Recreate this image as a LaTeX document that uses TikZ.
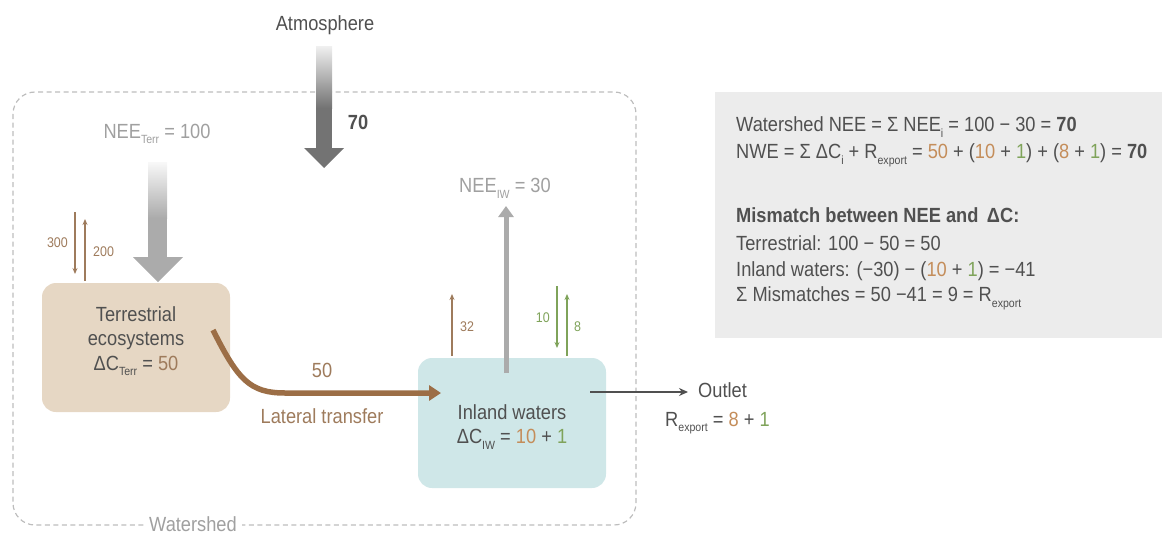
\documentclass[tikz,border=0pt]{standalone}
\usepackage{fontspec}
\setmainfont{Liberation Sans}[FakeStretch=0.89]
\usetikzlibrary{arrows.meta,calc}
\definecolor{txt}{HTML}{505050}
\definecolor{lgtxt}{HTML}{A0A0A0}
\definecolor{brownc}{HTML}{9C6E46}
\definecolor{brownl}{HTML}{9E7B5C}
\definecolor{tanc}{HTML}{C48D5A}
\definecolor{greenc}{HTML}{7FA35A}
\definecolor{terrfill}{HTML}{E6D7C4}
\definecolor{iwfill}{HTML}{CFE7E8}
\definecolor{rfill}{HTML}{ECECEC}
\definecolor{wsline}{HTML}{BDBDBD}
\definecolor{atmgray}{HTML}{737373}
\definecolor{neegray}{HTML}{ABABAB}
\newcommand\sbs[1]{\raisebox{-0.28em}{\scalebox{0.58}{#1}}}
\tikzset{
  every node/.style={inner sep=1pt, text=txt},
  big/.style={font=\fontsize{20.5}{24.5}\selectfont},
  small/.style={font=\fontsize{14}{16}\selectfont},
  boxstyle/.style={rounded corners=14pt, draw=none},
  wsd/.style={draw=wsline, line width=1.2pt, dash pattern=on 5pt off 3.5pt, rounded corners=22pt},
  thinarrow/.style={line width=1.4pt, -{Stealth[length=6pt,width=5pt]}},
}
\begin{document}
\begin{tikzpicture}[x=1pt,y=-1pt]
\useasboundingbox (0,0) rectangle (1162,535);
% watershed
\draw[wsd] (13,92) rectangle (636,525);
\node[big, text=lgtxt, fill=white, inner xsep=5pt] (ws) at (193,524) {Watershed};
% right box
\fill[rfill] (715,92) rectangle (1162,338);
\node[big, anchor=west] (r1) at (735,127) {Watershed NEE = Σ NEE\sbs{i} = 100 − 30 = \textbf{70}};
\node[big, anchor=west] (r2) at (735,155) {NWE = Σ ΔC\sbs{i} + R\sbs{export} = \textcolor{tanc}{50} + (\textcolor{tanc}{10} + \textcolor{greenc}{1}) + (\textcolor{tanc}{8} + \textcolor{greenc}{1}) = \textbf{70}};
\node[big, anchor=west] (r3) at (735,215) {\textbf{Mismatch between NEE and\, ΔC:}};
\node[big, anchor=west] (r4) at (735,243) {Terrestrial: 100 − 50 = 50};
\node[big, anchor=west] (r5) at (735,271) {Inland waters: (−30) − (\textcolor{tanc}{10} + \textcolor{greenc}{1}) = −41};
\node[big, anchor=west] (r6) at (735,298) {Σ Mismatches = 50 −41 = 9 = R\sbs{export}};
% atmosphere
\node[big] (atm) at (325,25) {Atmosphere};
\shade[top color=atmgray!12, bottom color=atmgray] (316,47) rectangle (332,108);
\fill[atmgray] (316,107.5) rectangle (332,149);
\fill[atmgray] (304,148) -- (344,148) -- (324,168) -- cycle;
\node[big] (n70) at (358,122) {\textbf{70}};
% NEE terr
\node[big, text=lgtxt] (neeterr) at (157,134) {NEE\sbs{Terr} = 100};
\shade[top color=neegray!8, bottom color=neegray] (148,162) rectangle (167,218);
\fill[neegray] (148,217.5) rectangle (167,258);
\fill[neegray] (133,257) -- (183,257) -- (158,282) -- cycle;
% terrestrial box
\node[boxstyle, fill=terrfill, minimum width=188pt, minimum height=129pt] (terr) at (136,347.5) {};
\node[big, align=center] (terrtxt) at (136,341) {Terrestrial\\ecosystems\\ΔC\sbs{Terr} = \textcolor{brownl}{50}};
% 300/200
\coordinate (a300s) at (75,212); \coordinate (a300e) at (75,274);
\coordinate (a200s) at (85,281); \coordinate (a200e) at (85,219);
\draw[thinarrow, brownl] (a300s) -- (a300e);
\draw[thinarrow, brownl] (a200s) -- (a200e);
\node[small, text=brownl, anchor=east] (l300) at (69,243) {300};
\node[small, text=brownl, anchor=west] (l200) at (92,252) {200};
% inland waters box
\node[boxstyle, fill=iwfill, minimum width=188pt, minimum height=130pt] (iw) at (512,423) {};
\node[big, align=center] (iwtxt) at (512,427) {Inland waters\\ΔC\sbs{IW} = \textcolor{tanc}{10} + \textcolor{greenc}{1}};
% NEE IW
\node[big, text=lgtxt] (neeiw) at (505,188) {NEE\sbs{IW} = 30};
\coordinate (iwup) at (506,373);
\coordinate (iwtop) at (506,206);
\draw[neegray, line width=5pt, -{Triangle[length=11pt,width=15pt]}] (iwup) -- (iwtop);
% 32 / 10 / 8
\draw[thinarrow, brownl] (452,356) -- (452,294);
\node[small, text=brownl, anchor=west] (l32) at (459,327) {32};
\draw[thinarrow, greenc] (557,286) -- (557,348);
\node[small, text=greenc, anchor=east] (l10) at (551,318) {10};
\draw[thinarrow, greenc] (567,356) -- (567,294);
\node[small, text=greenc, anchor=west] (l8) at (573,327) {8};
% lateral transfer
\coordinate (latS) at (213,330);
\coordinate (latE) at (441,393);
\draw[brownc, line width=5.5pt, -{Triangle[length=12pt,width=15pt]}] (latS) .. controls (238,380) and (250,393) .. (285,393) -- (latE);
\node[big, text=brownl] (l50) at (322,370) {50};
\node[big, text=brownl] (lat) at (322,416) {Lateral transfer};
% outlet
\node[big, anchor=west] (outlet) at (697,390) {Outlet};
\coordinate (outS) at (590,392);
\coordinate (outE) at (688,392);
\draw[txt, line width=1.6pt, -{Stealth[length=9pt,width=8pt]}] (outS) -- (outE);
\node[big, anchor=west] (rexp) at (664,423) {R\sbs{export} = \textcolor{tanc}{8} + \textcolor{greenc}{1}};
\end{tikzpicture}
\end{document}
